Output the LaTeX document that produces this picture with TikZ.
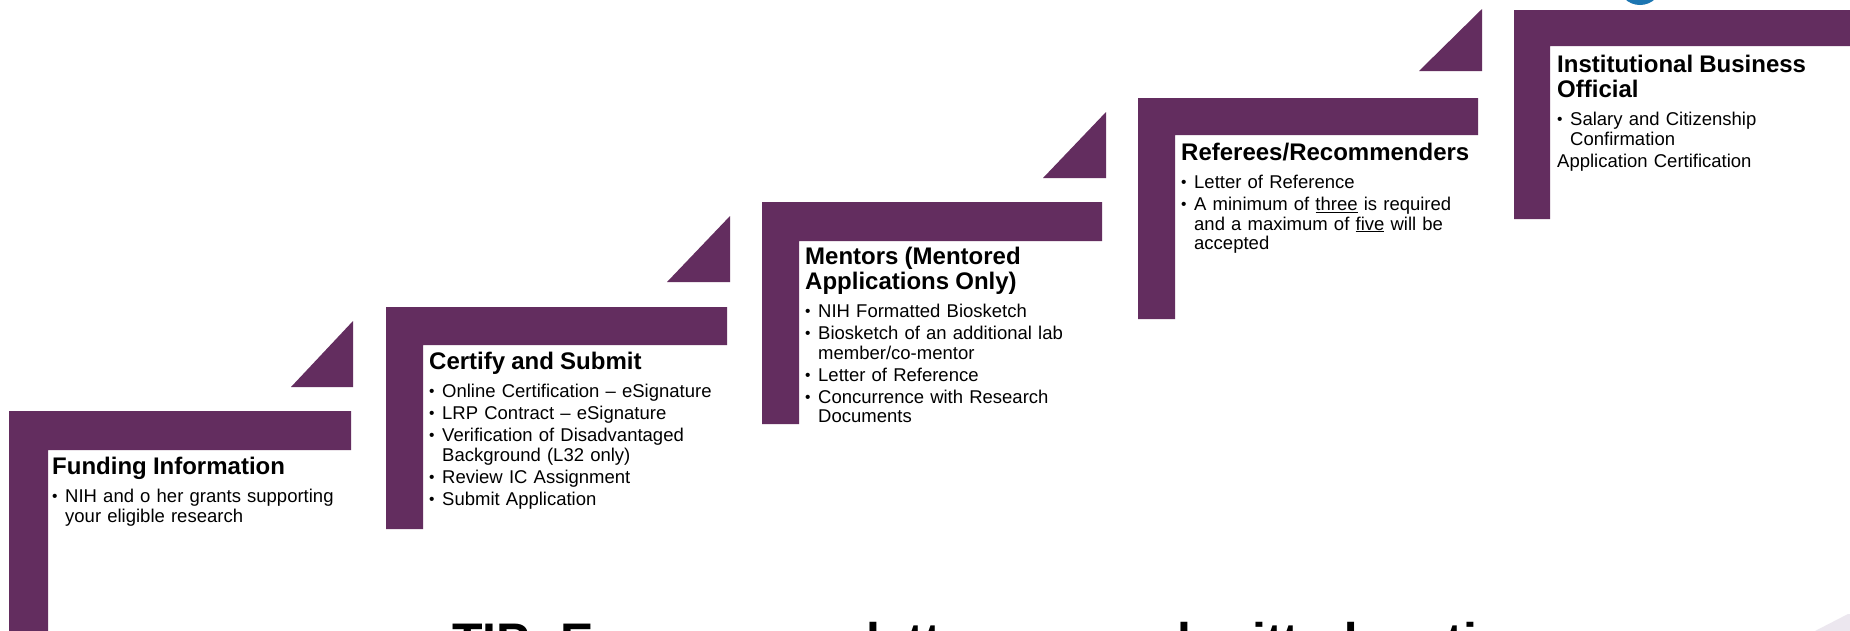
\documentclass[tikz,border=0pt]{standalone}
\usepackage{fontspec}
\setmainfont{Liberation Sans}
\usepackage{xcolor}

\definecolor{stepplum}{RGB}{99,45,95}
\definecolor{logoblue}{RGB}{28,118,178}
\definecolor{fadegray}{RGB}{236,231,239}

% heading and bullet lines of one step
\newcommand{\stephead}[1]{{\fontsize{24}{25}\selectfont\bfseries #1\par}\vspace{6pt}}
\newcommand{\stepitem}[1]{\par\vspace{2.5pt}\hangindent=13pt\hangafter=1\noindent
    \makebox[13pt][l]{\raisebox{1pt}{\fontsize{15.5}{15.5}\selectfont\textbullet}}#1\par}

\begin{document}
\begin{tikzpicture}[x=1pt, y=-1pt,
    stepfill/.style={fill=stepplum, draw=none},
    stepnote/.style={anchor=north west, inner sep=0pt, text width=300pt, align=left,
        font=\fontsize{18.5}{19.5}\selectfont}]

        \fill[white] (0,0) rectangle (1850,630);
        \useasboundingbox (0,0) rectangle (1850,630);
        \clip (0,0) rectangle (1850,630);

        % steps
        \fill[stepfill] (9,411) -- (351,411) -- (351,450) -- (48,450) -- (48,640) -- (9,640) -- cycle;
        \fill[stepfill] (386,307) -- (727,307) -- (727,345) -- (423,345) -- (423,529) -- (386,529) -- cycle;
        \fill[stepfill] (762,202) -- (1102,202) -- (1102,241) -- (799,241) -- (799,424) -- (762,424) -- cycle;
        \fill[stepfill] (1138,98) -- (1478,98) -- (1478,135) -- (1175,135) -- (1175,319) -- (1138,319) -- cycle;
        \fill[stepfill] (1514,10) -- (1860,10) -- (1860,46) -- (1550,46) -- (1550,219) -- (1514,219) -- cycle;

        % corner triangles
        \fill[stepfill] (291,387) -- (353,321) -- (353,387) -- cycle;
        \fill[stepfill] (667,282) -- (730,216) -- (730,282) -- cycle;
        \fill[stepfill] (1043,178) -- (1106,112) -- (1106,178) -- cycle;
        \fill[stepfill] (1419,71) -- (1482,9) -- (1482,71) -- cycle;

        \fill[logoblue] (1640,-17) circle (22);
        \fill[fadegray] (1815,631) -- (1848,614) -- (1851,614) -- (1851,631) -- cycle;

        \node[stepnote] at (52,457) (funding) {\stephead{Funding Information}
            \stepitem{NIH and o her grants supporting\newline your eligible research}};

        \node[stepnote] at (429,352) (certify) {\stephead{Certify and Submit}
            \stepitem{Online Certification – eSignature}
            \stepitem{LRP Contract – eSignature}
            \stepitem{Verification of Disadvantaged\newline Background (L32 only)}
            \stepitem{Review IC Assignment}
            \stepitem{Submit Application}};

        \node[stepnote] at (805,247) (mentors) {\stephead{Mentors (Mentored\newline Applications Only)}
            \stepitem{NIH Formatted Biosketch}
            \stepitem{Biosketch of an additional lab\newline member/co-mentor}
            \stepitem{Letter of Reference}
            \stepitem{Concurrence with Research\newline Documents}};

        \node[stepnote] at (1181,143) (referees) {\stephead{Referees/Recommenders}
            \stepitem{Letter of Reference}
            \stepitem{A minimum of \underline{three} is required\newline and a maximum of \underline{five} will be\newline accepted}};

        \node[stepnote] at (1557,55) (official) {\stephead{Institutional Business\newline Official}
            \stepitem{Salary and Citizenship\newline Confirmation}
            \vspace{2.5pt}\noindent Application Certification};

        \node[anchor=base west, inner sep=0pt, font=\fontsize{50}{55}\selectfont\bfseries] at (452,658) (tip)
            {TIP: Ensure your letters are submitted on time};

    \end{tikzpicture}
\end{document}
